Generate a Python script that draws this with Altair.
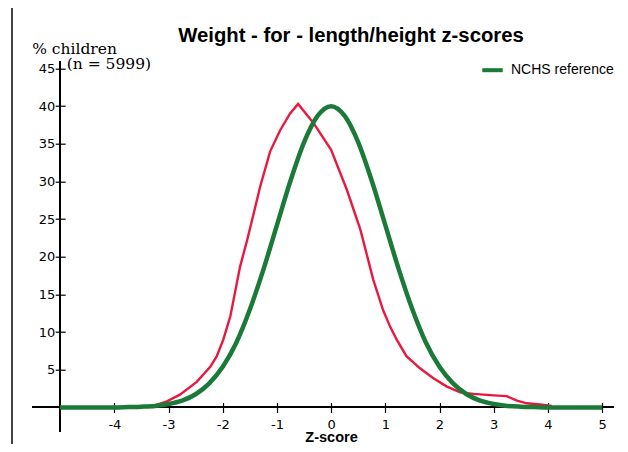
import altair as alt
import pandas as pd

# ---- data ----
green_z = [-5, -4.5, -4, -3.75, -3.5, -3.25, -3, -2.75, -2.5, -2.25, -2, -1.75, -1.5, -1.25,
           -1, -0.75, -0.5, -0.25, 0, 0.25, 0.5, 0.75, 1, 1.25, 1.5, 1.75, 2, 2.25, 2.5,
           2.75, 3, 3.25, 3.5, 3.75, 4, 4.5, 5]
green_pct = [0, 0, 0, 0.05, 0.1, 0.2, 0.45, 0.9, 1.75, 3.2, 5.4, 8.6, 13.0, 18.3,
             24.2, 30.1, 35.2, 38.7, 40.0, 38.7, 35.2, 30.1, 24.2, 18.3, 13.0, 8.6, 5.4, 3.2, 1.75,
             0.9, 0.45, 0.2, 0.1, 0.05, 0, 0, 0]

red_z = [-5, -4, -3.5, -3.28, -3.03, -2.79, -2.48, -2.23, -2.11, -1.99, -1.86, -1.68, -1.55,
         -1.37, -1.31, -1.125, -0.94, -0.76, -0.61, -0.33, 0, 0.29, 0.54, 0.78, 0.96, 1.09,
         1.21, 1.39, 1.64, 1.88, 2.13, 2.38, 2.63, 3.0, 3.24, 3.43, 3.61, 3.86, 4.07]
red_pct = [0, 0, 0.05, 0.2, 0.8, 1.7, 3.4, 5.4, 6.8, 9.0, 12.1, 18.7, 22.2,
           27.5, 29.3, 34.0, 36.8, 39.0, 40.3, 37.8, 34.2, 28.9, 23.6, 16.9, 12.9, 10.7,
           9.0, 6.8, 5.2, 3.9, 2.8, 2.0, 1.8, 1.6, 1.5, 0.9, 0.55, 0.4, 0.2]

series_names = ["Survey", "NCHS reference"]
x_ticks = [-4, -3, -2, -1, 0, 1, 2, 3, 4, 5]
y_ticks = [5, 10, 15, 20, 25, 30, 35, 40, 45]

red_df = pd.DataFrame({"z": red_z, "pct": red_pct, "series": series_names[0]})
green_df = pd.DataFrame({"z": green_z, "pct": green_pct, "series": series_names[1]})

W, H = 582, 370
INDENT = "\u200b" + "\u00a0" * 7

x_scale = alt.Scale(domain=[-5.52, 5.22], nice=False, zero=False)
y_scale = alt.Scale(domain=[-3.22, 45.9], nice=False, zero=False)
color_scale = alt.Scale(domain=series_names, range=["#E8193F", "#1B7A38"])

x_axis = alt.Axis(values=x_ticks, offset=-29.25, tickSize=10, domain=False, grid=False,
                  labelPadding=6, labelFont="DejaVu Sans", labelFontSize=13, labelColor="black",
                  tickColor="black", tickWidth=1.2, labelExpr="toString(datum.value)",
                  labelFlush=False, labelOverlap=False,
                  title="Z-score", titleFont="Liberation Sans", titleFontWeight="bold",
                  titleFontSize=14.5, titleX=299, titleY=39, titleBaseline="alphabetic",
                  titleAlign="center", titleColor="black")

y_axis = alt.Axis(values=y_ticks, offset=-33.2, tickSize=10, domain=False, grid=False,
                  labelPadding=0.5, labelFont="DejaVu Sans", labelFontSize=13, labelColor="black",
                  tickColor="black", tickWidth=1.2, labelFlush=False, labelOverlap=False,
                  title=["% children", INDENT + "(n = 5999)"], titleAngle=0,
                  titleAlign="left", titleBaseline="alphabetic", titleX=-33.5, titleY=-8.4,
                  titleFont="DejaVu Serif", titleFontSize=15.5, titleFontWeight="normal",
                  titleLineHeight=15, titleColor="black")

legend = alt.Legend(orient="none", legendX=448, legendY=-4, title=None,
                    values=["NCHS reference"], symbolType="stroke", symbolSize=420,
                    symbolStrokeWidth=4, labelFont="Liberation Sans", labelFontSize=14,
                    labelColor="black", labelOffset=6, padding=0)

enc = dict(
    x=alt.X("z:Q", scale=x_scale, axis=x_axis),
    y=alt.Y("pct:Q", scale=y_scale, axis=y_axis),
    color=alt.Color("series:N", scale=color_scale, legend=legend),
)

red = alt.Chart(red_df).mark_line(strokeWidth=2.4, interpolate="linear").encode(**enc)
green = alt.Chart(green_df).mark_line(strokeWidth=4.5, interpolate="monotone").encode(**enc)

y_line = alt.Chart(red_df).mark_rule(color="black", strokeWidth=1.2).encode(
    x=alt.XDatum(-5, type="quantitative"), y=alt.value(0), y2=alt.value(H))
x_line = alt.Chart(red_df).mark_rule(color="black", strokeWidth=1.2).encode(
    y=alt.YDatum(0, type="quantitative"), x=alt.value(0), x2=alt.value(W))
border = alt.Chart(red_df).mark_rule(color="#444444", strokeWidth=1).encode(
    x=alt.value(-20), y=alt.value(-62), y2=alt.value(H + 25))

chart = alt.layer(border, y_line, x_line, red, green).properties(
    width=W, height=H,
    background="white",
    autosize=alt.AutoSizeParams(type="none"),
    padding={"left": 24, "top": 53.7, "right": 4, "bottom": 12.3},
    title=alt.Title("Weight - for - length/height z-scores", font="Liberation Sans",
                    fontSize=20.3, fontWeight="bold", color="black", anchor="middle",
                    frame="group", dx=28, dy=47, offset=0),
).configure_view(stroke="transparent", strokeWidth=0)

chart.save("out.html", embed_options={"renderer": "svg", "actions": False})
